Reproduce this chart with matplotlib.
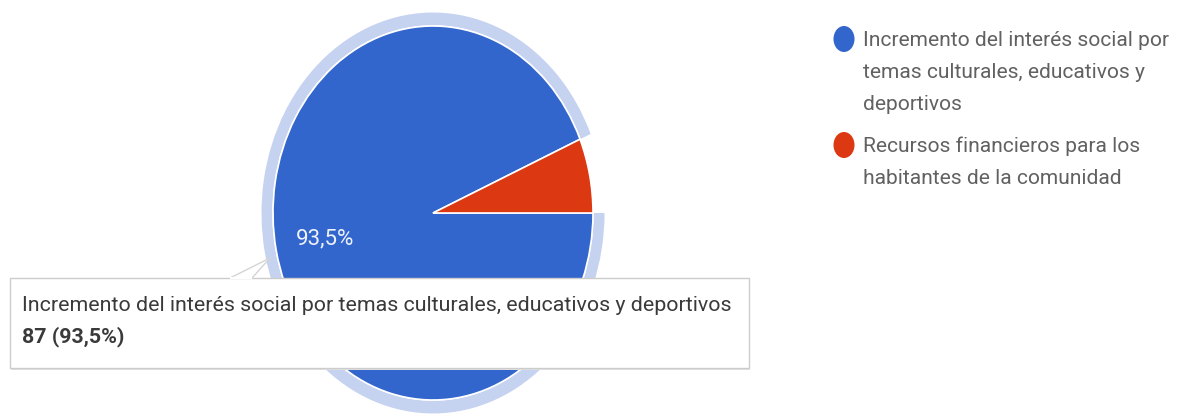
import textwrap
import matplotlib.pyplot as plt
from matplotlib.patches import Wedge, Rectangle, Ellipse, Polygon

plt.rcParams['font.family'] = ['Roboto', 'DejaVu Sans']

# datos
etiquetas = ["Incremento del interés social por temas culturales, educativos y deportivos",
             "Recursos financieros para los habitantes de la comunidad"]
respuestas = [87, 6]
colores = ['#3366cc', '#dc3912']
resaltado = 0  # sector con el tooltip

W, H = 1184, 419
fig = plt.figure(figsize=(W / 100, H / 100), dpi=100)

# ejes del pastel (en pixeles: centro 433,213 ; radios 160 x 187)
cx, cy, rx, ry = 433, 213, 160, 187
ax = fig.add_axes([(cx - 1.25 * rx) / W, 0, 2.5 * rx / W, 1])
ax.set_zorder(1)


def fmt_pct(p):
    return (f"{p:.1f}".replace('.', ',') + '%') if p > 10 else ''


wedges, _, autotexts = ax.pie(respuestas, colors=colores, startangle=0, counterclock=False,
                              autopct=fmt_pct, pctdistance=0.69,
                              wedgeprops=dict(edgecolor='white', linewidth=1.2),
                              textprops=dict(color='#eef2fb', fontsize=16))
ax.set_aspect('auto')
ax.set_xlim(-1.25, 1.25)
ax.set_ylim(-(H - cy) / ry, cy / ry)

# anillo de resaltado del sector activo
w = wedges[resaltado]
ax.add_patch(Wedge((0, 0), 1.072, w.theta1, w.theta2, width=0.068,
                   facecolor='#c5d2f0', edgecolor='none', zorder=0))

# capa superior en pixeles
ov = fig.add_axes([0, 0, 1, 1])
ov.set_zorder(2)
ov.set_xlim(0, W)
ov.set_ylim(H, 0)
ov.axis('off')

# leyenda
y = 40
for lab, col in zip(etiquetas, colores):
    ov.add_patch(Ellipse((844, y - 1), 21, 26, facecolor=col, edgecolor='none'))
    for linea in textwrap.wrap(lab, 33):
        ov.text(863, y, linea, fontsize=15.1, color='#616161', va='center', ha='left')
        y += 32
    y += 10

# tooltip
bx0, by0, bx1, by1 = 10, 278, 749, 368
ov.add_patch(Rectangle((bx0 + 1, by0 + 2), bx1 - bx0, by1 - by0,
                       facecolor='#e2e2e2', edgecolor='none'))
ov.add_patch(Rectangle((bx0, by0), bx1 - bx0, by1 - by0,
                       facecolor='white', edgecolor='#cccccc', linewidth=1))
ov.add_patch(Polygon([(230, by0), (270, 258), (252, by0)], closed=True,
                     facecolor='white', edgecolor='#d4d4d4', linewidth=1))
ov.plot([231, 251], [by0, by0], color='white', linewidth=1.5)
pct = respuestas[resaltado] / sum(respuestas) * 100
ov.text(22, 305, etiquetas[resaltado], fontsize=15.4, color='#3a3a3a', va='center', ha='left')
ov.text(22, 337, f"{respuestas[resaltado]} ({fmt_pct(pct)})", fontsize=15.4,
        fontweight='bold', color='#3a3a3a', va='center', ha='left')

fig.savefig('out.png', dpi=100)
